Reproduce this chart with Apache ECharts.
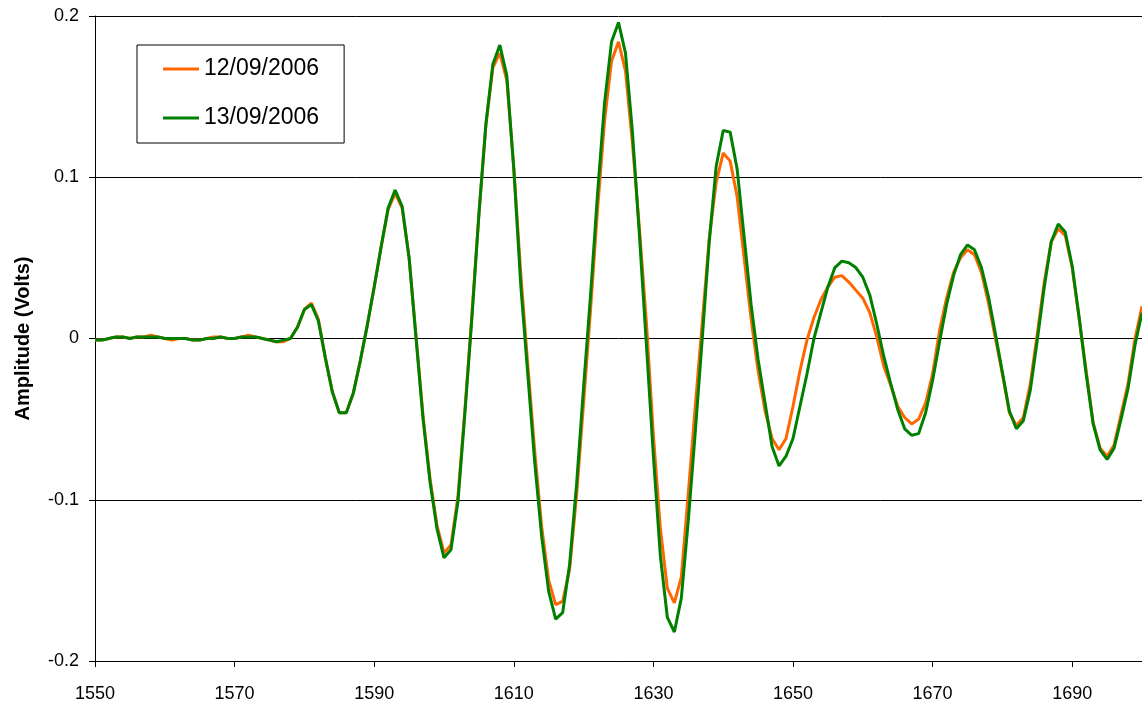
<!DOCTYPE html>
<html>
<head>
<meta charset="utf-8">
<title>Amplitude</title>
<script src="https://cdn.jsdelivr.net/npm/echarts@6/dist/echarts.min.js"></script>
<style>
  html, body { margin: 0; padding: 0; background: #fff; }
  #chart { width: 1142px; height: 711px; }
</style>
</head>
<body>
<div id="chart"></div>
<script>
// Sample positions (x axis)
const samples = [
  1550,1551,1552,1553,1554,1555,1556,1557,1558,1559,
  1560,1561,1562,1563,1564,1565,1566,1567,1568,1569,
  1570,1571,1572,1573,1574,1575,1576,1577,1578,1579,
  1580,1581,1582,1583,1584,1585,1586,1587,1588,1589,
  1590,1591,1592,1593,1594,1595,1596,1597,1598,1599,
  1600,1601,1602,1603,1604,1605,1606,1607,1608,1609,
  1610,1611,1612,1613,1614,1615,1616,1617,1618,1619,
  1620,1621,1622,1623,1624,1625,1626,1627,1628,1629,
  1630,1631,1632,1633,1634,1635,1636,1637,1638,1639,
  1640,1641,1642,1643,1644,1645,1646,1647,1648,1649,
  1650,1651,1652,1653,1654,1655,1656,1657,1658,1659,
  1660,1661,1662,1663,1664,1665,1666,1667,1668,1669,
  1670,1671,1672,1673,1674,1675,1676,1677,1678,1679,
  1680,1681,1682,1683,1684,1685,1686,1687,1688,1689,
  1690,1691,1692,1693,1694,1695,1696,1697,1698,1699,
  1700
];

// Amplitude (Volts) recorded on 12/09/2006
const amp12 = [
  -0.001,-0.001,0.000,0.001,0.001,0.000,0.001,0.001,0.002,0.001,
  0.000,-0.001,0.000,0.000,-0.001,-0.001,0.000,0.001,0.001,0.000,
  0.000,0.001,0.002,0.001,0.000,-0.001,-0.002,-0.002,0.000,0.007,
  0.018,0.022,0.012,-0.012,-0.033,-0.046,-0.046,-0.034,-0.014,0.008,
  0.032,0.057,0.080,0.090,0.081,0.050,0.001,-0.048,-0.087,-0.116,
  -0.133,-0.128,-0.098,-0.044,0.015,0.077,0.132,0.168,0.177,0.160,
  0.106,0.040,-0.016,-0.070,-0.117,-0.150,-0.165,-0.163,-0.143,-0.097,
  -0.040,0.018,0.080,0.135,0.172,0.184,0.166,0.121,0.068,0.010,
  -0.060,-0.118,-0.155,-0.164,-0.148,-0.096,-0.042,0.010,0.062,0.097,
  0.115,0.110,0.088,0.050,0.012,-0.020,-0.045,-0.062,-0.069,-0.062,
  -0.042,-0.020,-0.001,0.013,0.024,0.032,0.038,0.039,0.035,0.030,
  0.025,0.016,0.001,-0.017,-0.029,-0.042,-0.049,-0.053,-0.050,-0.040,
  -0.022,0.005,0.025,0.041,0.050,0.055,0.052,0.041,0.022,0.000,
  -0.022,-0.046,-0.054,-0.049,-0.028,0.003,0.035,0.060,0.068,0.064,
  0.044,0.012,-0.020,-0.052,-0.068,-0.073,-0.066,-0.047,-0.028,0.000,
  0.020
];

// Amplitude (Volts) recorded on 13/09/2006
const amp13 = [
  -0.001,-0.001,0.000,0.001,0.001,0.000,0.001,0.001,0.001,0.001,
  0.000,0.000,0.000,0.000,-0.001,-0.001,0.000,0.000,0.001,0.000,
  0.000,0.001,0.001,0.001,0.000,-0.001,-0.002,-0.001,0.000,0.007,
  0.018,0.021,0.011,-0.012,-0.033,-0.046,-0.046,-0.034,-0.014,0.008,
  0.032,0.057,0.081,0.092,0.082,0.050,0.000,-0.050,-0.089,-0.118,
  -0.136,-0.131,-0.101,-0.046,0.013,0.077,0.133,0.170,0.182,0.163,
  0.105,0.033,-0.022,-0.077,-0.123,-0.157,-0.174,-0.170,-0.140,-0.090,
  -0.030,0.027,0.090,0.146,0.184,0.196,0.177,0.128,0.064,-0.004,
  -0.073,-0.135,-0.173,-0.182,-0.161,-0.113,-0.058,0.000,0.060,0.107,
  0.129,0.128,0.105,0.063,0.021,-0.013,-0.040,-0.067,-0.079,-0.073,
  -0.062,-0.042,-0.022,0.000,0.016,0.032,0.044,0.048,0.047,0.044,
  0.038,0.027,0.009,-0.011,-0.028,-0.044,-0.056,-0.060,-0.059,-0.046,
  -0.026,-0.002,0.021,0.039,0.052,0.058,0.055,0.044,0.026,0.003,
  -0.021,-0.045,-0.056,-0.051,-0.032,-0.001,0.032,0.060,0.071,0.066,
  0.045,0.013,-0.022,-0.053,-0.069,-0.075,-0.068,-0.050,-0.031,-0.004,
  0.016
];

const seriesNames = ['12/09/2006', '13/09/2006'];
const seriesColors = ['#FF6600', '#008000'];

const pairs = (ys) => samples.map((x, i) => [x, ys[i]]);

const font = "'Liberation Sans', Arial, sans-serif";
const chart = echarts.init(document.getElementById('chart'), null, { renderer: 'canvas' });

chart.setOption({
  animation: false,
  backgroundColor: '#ffffff',
  textStyle: { fontFamily: font },
  grid: { left: 95, right: -1, top: 16, bottom: 50, containLabel: false },
  legend: {
    orient: 'vertical',
    left: 137,
    top: 45,
    data: seriesNames,
    icon: 'rect',
    itemWidth: 36,
    itemHeight: 3,
    itemGap: 23,
    padding: [11, 25, 12, 26],
    borderColor: '#000',
    borderWidth: 1,
    backgroundColor: '#fff',
    textStyle: { fontFamily: font, fontSize: 23, color: '#000', lineHeight: 26 }
  },
  xAxis: {
    type: 'value',
    min: 1550,
    max: 1700,
    interval: 20,
    axisLine: { show: true, onZero: false, lineStyle: { color: '#000', width: 1 } },
    axisTick: { show: true, length: 6, lineStyle: { color: '#000' } },
    axisLabel: {
      show: true, margin: 24, fontSize: 18, color: '#000', fontFamily: font,
      showMaxLabel: false,
      formatter: (v) => String(v)
    },
    splitLine: { show: false }
  },
  yAxis: {
    type: 'value',
    min: -0.2,
    max: 0.2,
    interval: 0.1,
    name: 'Amplitude (Volts)',
    nameLocation: 'middle',
    nameRotate: 90,
    nameGap: 62,
    nameTextStyle: { fontFamily: font, fontSize: 20, fontWeight: 'bold', color: '#000' },
    axisLine: { show: true, onZero: false, lineStyle: { color: '#000', width: 1 } },
    axisTick: { show: true, length: 6, lineStyle: { color: '#000' } },
    axisLabel: { margin: 16, fontSize: 18, color: '#000', fontFamily: font },
    splitLine: { show: true, lineStyle: { color: '#000', width: 1 } }
  },
  series: [
    {
      name: seriesNames[0],
      type: 'line',
      data: pairs(amp12),
      showSymbol: false,
      symbol: 'none',
      lineStyle: { color: seriesColors[0], width: 3 },
      itemStyle: { color: seriesColors[0] },
      z: 2
    },
    {
      name: seriesNames[1],
      type: 'line',
      data: pairs(amp13),
      showSymbol: false,
      symbol: 'none',
      lineStyle: { color: seriesColors[1], width: 3 },
      itemStyle: { color: seriesColors[1] },
      z: 3
    }
  ]
});
</script>
</body>
</html>
